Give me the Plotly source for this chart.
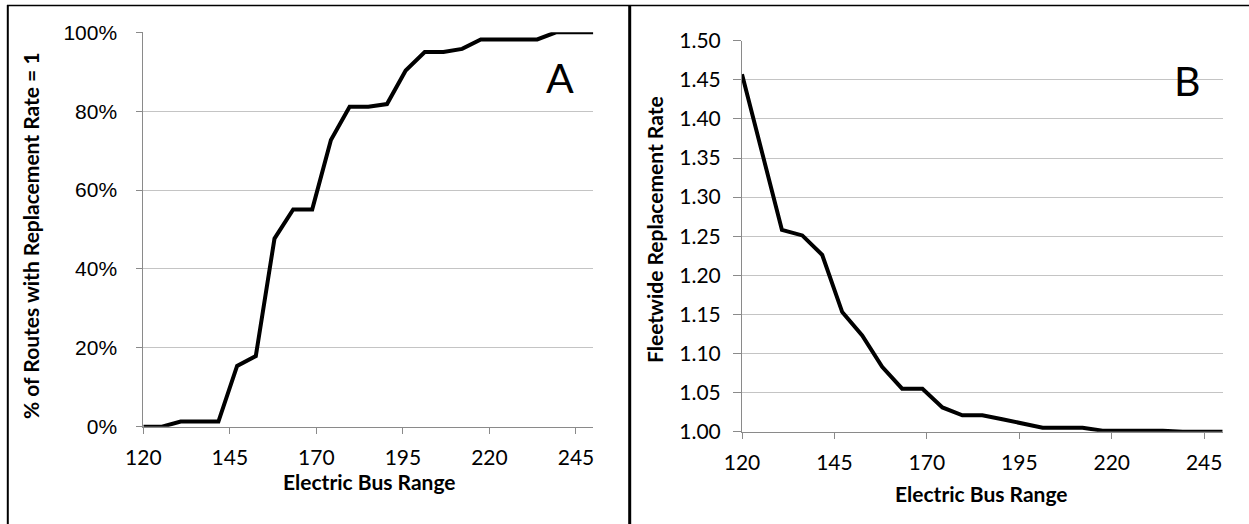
import plotly.graph_objects as go

# ---- data ----
bus_range = [120, 125.4, 130.8, 136.3, 141.7, 147.1, 152.5, 157.9, 163.3, 168.8,
             174.2, 179.6, 185.0, 190.4, 195.8, 201.3, 206.7, 212.1, 217.5, 222.9,
             228.3, 233.8, 239.2, 244.6, 250.0]
pct_routes_rate1 = [0.0, 0.0, 0.013, 0.013, 0.013, 0.154, 0.179, 0.477, 0.551, 0.551,
                    0.727, 0.811, 0.811, 0.818, 0.903, 0.950, 0.950, 0.958, 0.982, 0.982,
                    0.982, 0.982, 1.0, 1.0, 1.0]
fleet_rate = [1.457, 1.357, 1.258, 1.251, 1.226, 1.153, 1.123, 1.083, 1.055, 1.055,
              1.031, 1.021, 1.021, 1.016, 1.011, 1.005, 1.005, 1.005, 1.0013, 1.0013,
              1.0013, 1.0013, 1.0, 1.0, 1.0]
x_ticks = [120, 145, 170, 195, 220, 245]
x_title = "Electric Bus Range"
y_title_a = "% of Routes with Replacement Rate = 1"
y_title_b = "Fleetwide Replacement Rate"

W, H = 1249, 524
def px(x):
    return x / W
def py(y):
    return 1 - y / H

BODY = "Lato, Calibri, sans-serif"
ARIAL = "Liberation Sans, Arial, sans-serif"
GRID = "#c4c4c4"
AXIS = "#8a8a8a"

fig = go.Figure()
fig.add_trace(go.Scatter(x=bus_range, y=pct_routes_rate1, mode="lines",
                         line=dict(color="black", width=4), xaxis="x", yaxis="y",
                         showlegend=False, hoverinfo="skip"))
fig.add_trace(go.Scatter(x=bus_range, y=fleet_rate, mode="lines",
                         line=dict(color="black", width=4), xaxis="x2", yaxis="y2",
                         showlegend=False, hoverinfo="skip"))

xcommon = dict(range=[120, 250], tickvals=x_ticks, showgrid=False, zeroline=False,
               showline=True, linecolor=AXIS, linewidth=1, ticks="outside", ticklen=6,
               tickcolor=AXIS, tickfont=dict(family=BODY, size=21, color="black"),
               ticklabelstandoff=6, automargin=False)

fig.update_layout(
    template="none",
    width=W, height=H, margin=dict(l=0, r=0, t=0, b=0, pad=0), autosize=False,
    paper_bgcolor="white", plot_bgcolor="white",
    xaxis=dict(domain=[px(143.3), px(593.3)], anchor="y", **xcommon),
    xaxis2=dict(domain=[px(742), px(1222.7)], anchor="y2", **xcommon),
    yaxis=dict(domain=[py(426.7), py(32.3)], anchor="x", range=[0, 1], dtick=0.2,
               tickformat=".0%", showgrid=True, gridcolor=GRID, gridwidth=1.3, zeroline=False,
               showline=True, linecolor=AXIS, linewidth=1, ticks="outside", ticklen=6,
               tickcolor=AXIS, tickfont=dict(family=ARIAL, size=21, color="black"),
               ticklabelstandoff=15, automargin=False),
    yaxis2=dict(domain=[py(431.7), py(40.7)], anchor="x2", range=[1.0, 1.5], dtick=0.05,
                tickformat=".2f", showgrid=True, gridcolor=GRID, gridwidth=1.3, zeroline=False,
                showline=True, linecolor=AXIS, linewidth=1, ticks="outside", ticklen=8,
                tickcolor=AXIS, tickfont=dict(family=BODY, size=21, color="black"),
                ticklabelstandoff=8, automargin=False),
)

TFONT = dict(family=BODY, size=21, color="black", weight="bold")
ann = []
ann.append(dict(text=x_title, x=px(369), y=py(481), xref="paper", yref="paper",
                xanchor="center", yanchor="middle", showarrow=False, font=TFONT))
ann.append(dict(text=x_title, x=px(981), y=py(493), xref="paper", yref="paper",
                xanchor="center", yanchor="middle", showarrow=False, font=TFONT))
ann.append(dict(text=y_title_a, x=px(30), y=py(236), xref="paper", yref="paper", textangle=-90,
                xanchor="center", yanchor="middle", showarrow=False, font=TFONT))
ann.append(dict(text=y_title_b, x=px(654), y=py(230), xref="paper", yref="paper", textangle=-90,
                xanchor="center", yanchor="middle", showarrow=False, font=TFONT))
ann.append(dict(text="A", x=px(560), y=py(77), xref="paper", yref="paper",
                xanchor="center", yanchor="middle",
                showarrow=False, font=dict(family=BODY, size=41, color="black")))
ann.append(dict(text="B", x=px(1187), y=py(80), xref="paper", yref="paper",
                xanchor="center", yanchor="middle",
                showarrow=False, font=dict(family=BODY, size=41, color="black")))
fig.update_layout(annotations=ann)

shapes = [
    dict(type="line", xref="paper", yref="paper", x0=px(7), x1=1, y0=py(5.5), y1=py(5.5),
         line=dict(color="black", width=1.6)),
    dict(type="line", xref="paper", yref="paper", x0=px(7.8), x1=px(7.8), y0=py(5), y1=0,
         line=dict(color="black", width=2)),
    dict(type="line", xref="paper", yref="paper", x0=px(629.7), x1=px(629.7), y0=py(5), y1=0,
         line=dict(color="black", width=3)),
]
fig.update_layout(shapes=shapes)

fig.write_html("out.html", config={"displayModeBar": False},
               post_script="document.body.style.margin='0px';document.body.style.padding='0px';")
